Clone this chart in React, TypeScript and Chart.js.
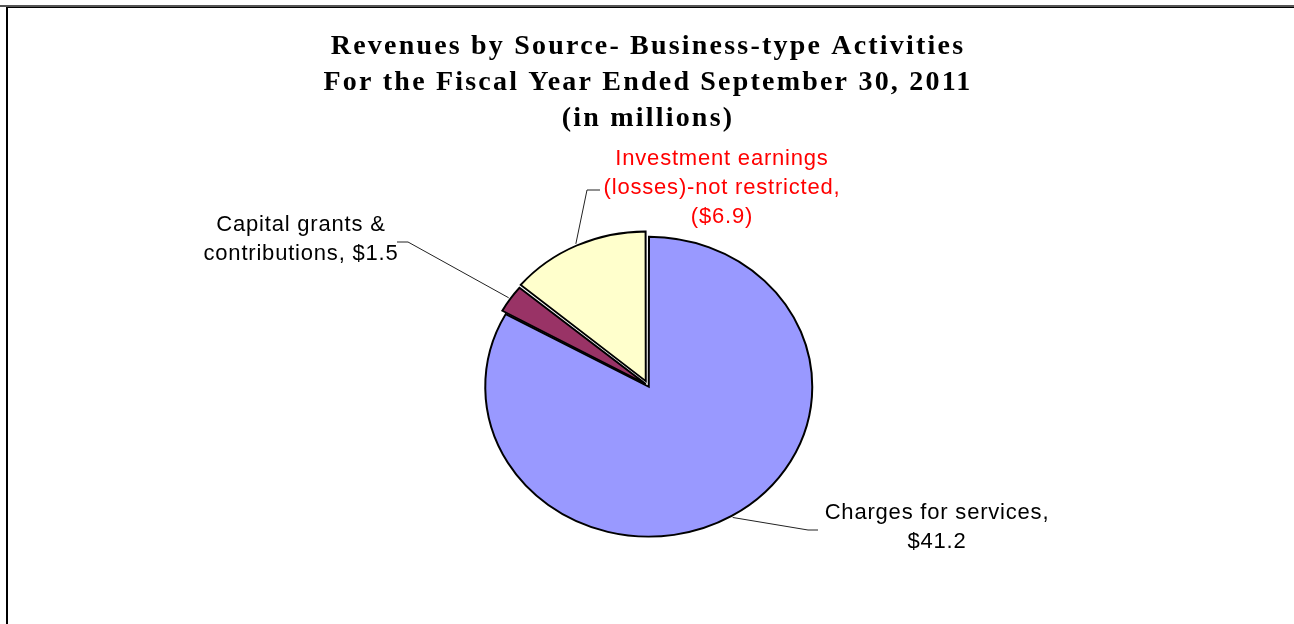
import React, { useEffect, useRef } from 'react';
import { Chart, registerables } from 'chart.js';

Chart.register(...registerables);

// ---- data ----
const categories = ['Charges for services', 'Capital grants & contributions', 'Investment earnings (losses)-not restricted'];
const values = [41.2, 1.5, 6.9];
const valueLabels = ['$41.2', '$1.5', '($6.9)'];
const titleLines = [
  'Revenues by Source- Business-type Activities',
  'For the Fiscal Year Ended September 30, 2011',
  '(in millions)',
];
const labelLines = [
  [`${categories[0]},`, valueLabels[0]],
  ['Capital grants &', `contributions, ${valueLabels[1]}`],
  ['Investment earnings', '(losses)-not restricted,', valueLabels[2]],
];

// ---- styles / layout ----
const sliceColors = ['#9999FF', '#993366', '#FFFFCC'];
const sliceOffsets = [6, 11, 21];
const labelColors = ['#000000', '#000000', '#FF0000'];
const VERTICAL_SQUASH = 0.917;
const labelLayout = [
  { textX: 937, textY: 513, elbow: [808, 530], end: [818, 530] },
  { textX: 301, textY: 225, elbow: [408, 242], end: [397, 242] },
  { textX: 722, textY: 159, elbow: [587, 190], end: [600, 190] },
];

const squashPlugin = {
  id: 'squashAndSpacing',
  beforeDraw(chart: any) {
    chart.ctx.letterSpacing = '2.2px';
  },
  beforeDatasetsDraw(chart: any) {
    const ctx = chart.ctx;
    ctx.letterSpacing = '0px';
    const el = chart.getDatasetMeta(0).data[0];
    const cx = el.x;
    const cy = el.y;
    ctx.save();
    ctx.translate(cx, cy);
    ctx.scale(1, VERTICAL_SQUASH);
    ctx.translate(-cx, -cy);
  },
  afterDatasetsDraw(chart: any) {
    chart.ctx.restore();
  },
  afterDraw(chart: any) {
    const ctx = chart.ctx;
    const meta = chart.getDatasetMeta(0);
    meta.data.forEach((el: any, i: number) => {
      const { x, y, startAngle, endAngle, outerRadius, circumference } = el.getProps(
        ['x', 'y', 'startAngle', 'endAngle', 'outerRadius', 'circumference'],
        true
      );
      const off = (el.options.offset || 0) / 4;
      const fix = 1 - Math.sin(Math.min(Math.PI, circumference || 0));
      const shift = off * (1 + fix);
      const mid = (startAngle + endAngle) / 2;
      const r = outerRadius + shift + 2;
      const ax = x + Math.cos(mid) * r;
      const ay = y + Math.sin(mid) * r * VERTICAL_SQUASH;
      const L = labelLayout[i];
      ctx.save();
      ctx.letterSpacing = '0px';
      ctx.strokeStyle = '#222';
      ctx.lineWidth = 1;
      ctx.beginPath();
      ctx.moveTo(ax, ay);
      ctx.lineTo(L.elbow[0], L.elbow[1]);
      ctx.lineTo(L.end[0], L.end[1]);
      ctx.stroke();
      ctx.fillStyle = labelColors[i];
      ctx.font = '22px "Liberation Sans", Arial, sans-serif';
      ctx.letterSpacing = '0.8px';
      ctx.textAlign = 'center';
      ctx.textBaseline = 'middle';
      labelLines[i].forEach((line, j) => {
        ctx.fillText(line, L.textX, L.textY + j * 29);
      });
      ctx.restore();
    });
  },
};

export default function App() {
  const ref = useRef<HTMLCanvasElement>(null);
  useEffect(() => {
    if (!ref.current) return;
    const chart = new Chart(ref.current, {
      type: 'pie',
      data: {
        labels: categories,
        datasets: [
          {
            data: values,
            backgroundColor: sliceColors,
            borderColor: '#000000',
            borderWidth: 2,
            borderJoinStyle: 'miter',
            offset: sliceOffsets,
          } as any,
        ],
      },
      options: {
        responsive: false,
        animation: false,
        radius: 162,
        layout: { padding: { left: 2, right: 0, top: 0, bottom: 67 } },
        plugins: {
          legend: { display: false },
          tooltip: { enabled: false },
          title: {
            display: true,
            text: titleLines,
            color: '#000000',
            font: { family: '"Liberation Serif", "Times New Roman", serif', size: 28, weight: 'bold', lineHeight: '36px' },
            padding: { top: 29, bottom: 0 },
          },
        },
      } as any,
      plugins: [squashPlugin],
    });
    return () => chart.destroy();
  }, []);

  return (
    <div style={{ position: 'fixed', left: 0, top: 0, width: 1294, height: 624, overflow: 'hidden', background: '#fff' }}>
      <div style={{ position: 'absolute', left: 0, top: 5, width: 1294, height: 2, background: '#555' }} />
      <div
        style={{
          position: 'absolute',
          left: 6,
          top: 7,
          width: 1400,
          height: 800,
          borderLeft: '2px solid #000',
          borderTop: '1px solid #000',
        }}
      />
      <canvas ref={ref} width={1294} height={701} style={{ position: 'absolute', left: 0, top: 0, display: 'block' }} />
    </div>
  );
}
